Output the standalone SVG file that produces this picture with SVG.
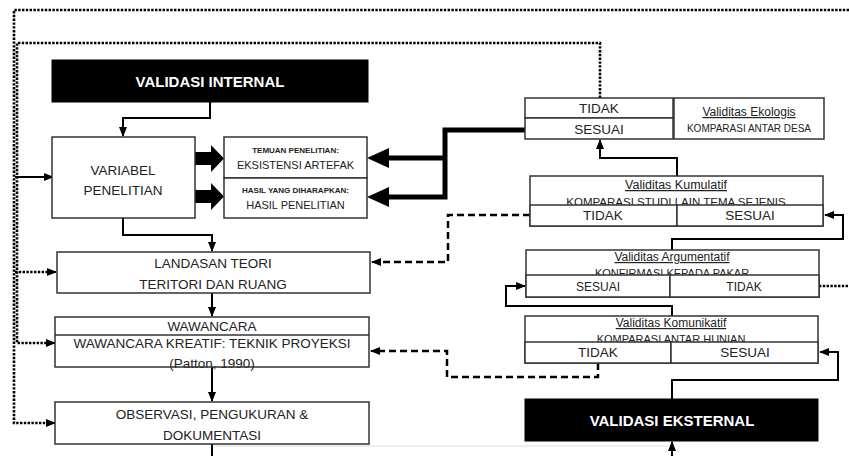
<svg xmlns="http://www.w3.org/2000/svg" width="849" height="456" viewBox="0 0 849 456">
<style>
.box{fill:#fff;stroke:#333;stroke-width:1.5}
.blk{fill:#000;stroke:#000}
.t{font-family:"Liberation Sans",Arial,sans-serif;fill:#222;text-anchor:middle}
.tw{font-family:"Liberation Sans",Arial,sans-serif;fill:#fff;text-anchor:middle;font-weight:bold;font-size:15px}
.m{font-size:13.5px}
.s{font-size:11px}
.xs{font-size:8px;font-weight:bold}
.u{font-size:12px;text-decoration:underline}
.sol{fill:none;stroke:#000;stroke-width:2}
.dot{fill:none;stroke:#000;stroke-width:2.6;stroke-dasharray:2.4,1.4}
.dash{fill:none;stroke:#000;stroke-width:2.5;stroke-dasharray:7,4}
.thick{fill:none;stroke:#000;stroke-width:5}
</style>
<defs>
<marker id="ah" markerUnits="userSpaceOnUse" markerWidth="10" markerHeight="10" viewBox="0 0 10 10" refX="9" refY="5" orient="auto">
<path d="M0,1 L10,5 L0,9 Z" fill="#000"/>
</marker>
</defs>

<g id="connectors">
<path class="dot" d="M849,10 H14 V423 H47"/>
<path class="dot" d="M600,98 V43 H17 V343 H47"/>
<path class="sol" d="M15,177 H53" marker-end="url(#ah)"/>
<path class="dot" d="M15,272 H49"/>
<path class="sol" d="M48,272 l8,0" marker-end="url(#ah)"/>
<path class="sol" d="M46,343 l9,0" marker-end="url(#ah)"/>
<path class="sol" d="M46,423 l9,0" marker-end="url(#ah)"/>
<path class="dot" d="M819,286 H849"/>
<path class="sol" d="M210,102 V118 H123 V136" marker-end="url(#ah)"/>
<path class="sol" d="M123,218 V235 H212 V251" marker-end="url(#ah)"/>
<path class="sol" d="M212,293 V316" marker-end="url(#ah)"/>
<path class="sol" d="M212,367 V401" marker-end="url(#ah)"/>
<path class="sol" d="M212,444 V456"/>
<path d="M214,446 H668" fill="none" stroke="#ddd" stroke-width="1"/>
<path class="sol" d="M672,456 V442" marker-end="url(#ah)"/>
<polygon points="195,152 211,152 211,145 224,158.5 211,172 211,165 195,165" fill="#000"/>
<polygon points="195,190 211,190 211,183 224,196.5 211,210 211,203 195,203" fill="#000"/>
<path class="thick" d="M525,130 H445 V197 H386"/>
<path class="thick" d="M445,158 H386"/>
<polygon points="367,158 389,148 389,168" fill="#000"/>
<polygon points="367,197 389,187 389,207" fill="#000"/>
<path class="sol" d="M677,176 V158 H600 V140" marker-end="url(#ah)"/>
<path class="sol" d="M672,250 V239 H843 V215 H825" marker-end="url(#ah)"/>
<path class="sol" d="M672,316 V306 H506 V286 H525" marker-end="url(#ah)"/>
<path class="sol" d="M672,399 V380 H838 V352 H820" marker-end="url(#ah)"/>
<path class="dash" d="M530,215 H448 V262 H378"/>
<path class="sol" d="M380,262 H372" marker-end="url(#ah)"/>
<path class="dash" d="M598,363 V377 H447 V351 H378"/>
<path class="sol" d="M380,351 H371" marker-end="url(#ah)"/>
</g>

<g id="validasi-internal">
<rect class="blk" x="52" y="60" width="316" height="42"/>
<text class="tw" x="210" y="87">VALIDASI INTERNAL</text>
</g>

<g id="variabel">
<rect class="box" x="52" y="137" width="143" height="81"/>
<text class="t m" x="123" y="175">VARIABEL</text>
<text class="t m" x="123" y="195">PENELITIAN</text>
</g>

<g id="temuan">
<rect class="box" x="224" y="137" width="143" height="41"/>
<rect class="box" x="224" y="178" width="143" height="40"/>
<text class="t xs" x="295.5" y="153">TEMUAN PENELITIAN:</text>
<text class="t s" x="295.5" y="169">EKSISTENSI ARTEFAK</text>
<text class="t xs" x="295.5" y="193">HASIL YANG DIHARAPKAN:</text>
<text class="t s" x="295.5" y="209">HASIL PENELITIAN</text>
</g>

<g id="landasan">
<rect class="box" x="57" y="252" width="313" height="41"/>
<text class="t m" x="213" y="268">LANDASAN TEORI</text>
<text class="t m" x="213" y="289">TERITORI DAN RUANG</text>
</g>

<g id="wawancara">
<text class="t m" x="212" y="348">WAWANCARA KREATIF: TEKNIK PROYEKSI</text>
<text class="t m" x="212" y="368">(Patton, 1990)</text>
<rect x="55" y="317" width="314" height="18" fill="#fff" stroke="none"/>
<rect x="55" y="317" width="314" height="50" fill="none" stroke="#333" stroke-width="1.5"/>
<line x1="55" y1="335" x2="369" y2="335" stroke="#333" stroke-width="1.5"/>
<text class="t m" x="212" y="331">WAWANCARA</text>
</g>

<g id="observasi">
<rect class="box" x="55" y="402" width="314" height="42"/>
<text class="t m" x="212" y="419">OBSERVASI, PENGUKURAN &amp;</text>
<text class="t m" x="212" y="440">DOKUMENTASI</text>
</g>

<g id="ekologis">
<rect class="box" x="525" y="98" width="148" height="20"/>
<rect class="box" x="525" y="118" width="148" height="21"/>
<rect class="box" x="674" y="98" width="150" height="41"/>
<text class="t m" x="599" y="113">TIDAK</text>
<text class="t m" x="599" y="134">SESUAI</text>
<text class="t u" x="749" y="116">Validitas Ekologis</text>
<text class="t" x="749" y="132" style="font-size:10px">KOMPARASI ANTAR DESA</text>
</g>

<g id="kumulatif">
<rect class="box" x="530" y="176" width="293" height="50"/>
<text class="t u" x="676" y="189" style="font-size:12.5px">Validitas Kumulatif</text>
<text class="t" x="676" y="206" style="font-size:11.5px">KOMPARASI STUDI LAIN TEMA SEJENIS</text>
<rect class="box" x="530" y="205" width="147" height="21"/>
<rect class="box" x="677" y="205" width="146" height="21"/>
<text class="t m" x="603" y="220">TIDAK</text>
<text class="t m" x="750" y="220">SESUAI</text>
</g>

<g id="argumentatif">
<rect class="box" x="526" y="250" width="293" height="47"/>
<text class="t u" x="672" y="261">Validitas Argumentatif</text>
<text class="t" x="672" y="277" style="font-size:11px">KONFIRMASI KEPADA PAKAR</text>
<rect class="box" x="526" y="275" width="144" height="22"/>
<rect class="box" x="670" y="275" width="149" height="22"/>
<text class="t" x="598" y="291" style="font-size:12px">SESUAI</text>
<text class="t" x="744" y="291" style="font-size:12px">TIDAK</text>
</g>

<g id="komunikatif">
<rect class="box" x="525" y="316" width="293" height="47"/>
<text class="t u" x="671" y="327">Validitas Komunikatif</text>
<text class="t" x="671" y="343" style="font-size:11px">KOMPARASI ANTAR HUNIAN</text>
<rect class="box" x="525" y="342" width="146" height="21"/>
<rect class="box" x="671" y="342" width="147" height="21"/>
<text class="t m" x="598" y="357">TIDAK</text>
<text class="t m" x="745" y="357">SESUAI</text>
</g>

<g id="validasi-eksternal">
<rect class="blk" x="525" y="399" width="293" height="42"/>
<text class="tw" x="672" y="426">VALIDASI EKSTERNAL</text>
</g>
</svg>
